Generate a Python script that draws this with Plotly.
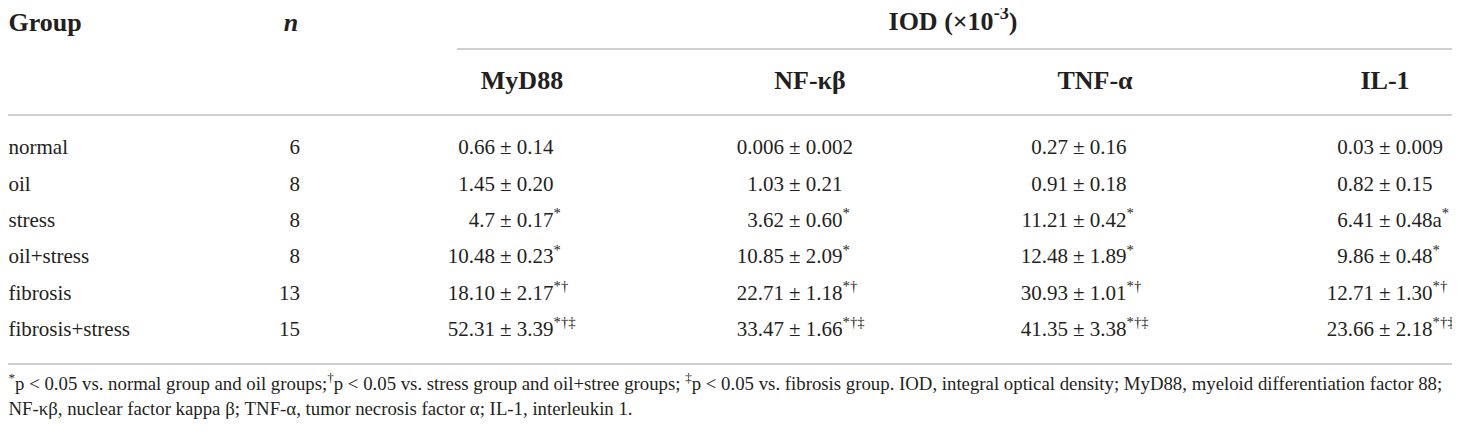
import re
import plotly.graph_objects as go

# table content
groups = ["normal", "oil", "stress", "oil+stress", "fibrosis", "fibrosis+stress"]
n_vals = [6, 8, 8, 8, 13, 15]

markers = ["MyD88", "NF-κβ", "TNF-α", "IL-1"]

myd88_mean = ["0.66", "1.45", "4.7", "10.48", "18.10", "52.31"]
myd88_sd = ["0.14", "0.20", "0.17", "0.23", "2.17", "3.39"]
myd88_sig = ["", "", "*", "*", "*†", "*†‡"]

nfkb_mean = ["0.006", "1.03", "3.62", "10.85", "22.71", "33.47"]
nfkb_sd = ["0.002", "0.21", "0.60", "2.09", "1.18", "1.66"]
nfkb_sig = ["", "", "*", "*", "*†", "*†‡"]

tnf_mean = ["0.27", "0.91", "11.21", "12.48", "30.93", "41.35"]
tnf_sd = ["0.16", "0.18", "0.42", "1.89", "1.01", "3.38"]
tnf_sig = ["", "", "*", "*", "*†", "*†‡"]

il1_mean = ["0.03", "0.82", "6.41", "9.86", "12.71", "23.66"]
il1_sd = ["0.009", "0.15", "0.48", "0.48", "1.30", "2.18"]
il1_sig = ["", "", "a*", "*", "*†", "*†‡"]

footnote_1 = ("<sup>*</sup>p &lt; 0.05 vs. normal group and oil groups;<sup>†</sup>p &lt; 0.05 vs. "
              "stress group and oil+stree groups; <sup>‡</sup>p &lt; 0.05 vs. fibrosis group. "
              "IOD, integral optical density; MyD88, myeloid differentiation factor 88;")
footnote_2 = "NF-κβ, nuclear factor kappa β; TNF-α, tumor necrosis factor α; IL-1, interleukin 1."

# layout constants (screen pixels; the page body adds an 8px margin)
W, H = 1460, 431
PAD = 8
FONT = "Liberation Serif"
INK = "#231f20"
RULE = "#d0d0d0"
HEAD_SIZE = 26
BODY_SIZE = 21
NOTE_SIZE = 18.8

left_x = PAD + 0.5                    # left text edge (plot area starts at the body margin)
row_y0, row_step = 149, 36.4
row_y = [row_y0 + i * row_step for i in range(len(groups))]
pm_x = [500, 789, 1073, 1379]         # left edge of the ± sign per column
head_x = [522, 810, 1095, 1385]       # centre of the column titles

columns = [
    (myd88_mean, myd88_sd, myd88_sig),
    (nfkb_mean, nfkb_sd, nfkb_sig),
    (tnf_mean, tnf_sd, tnf_sig),
    (il1_mean, il1_sd, il1_sig),
]

fig = go.Figure()


def add_text(x, y, text, pos, size=BODY_SIZE):
    fig.add_trace(go.Scatter(
        x=x, y=y, text=text, mode="text", textposition=pos,
        textfont=dict(family=FONT, size=size, color=INK),
        cliponaxis=False, hoverinfo="skip", showlegend=False,
    ))


def sig_marks(s):
    return re.sub(r"([*†‡]+)", r"<sup>\1</sup>", s)


# header
add_text([left_x], [24], ["<b>Group</b>"], "middle right", HEAD_SIZE)
add_text([291], [24], ["<b><i>n</i></b>"], "middle center", HEAD_SIZE)
add_text([953], [23], ["<b>IOD (×10<sup>-3</sup>)</b>"], "middle center", HEAD_SIZE)
add_text(head_x, [82] * 4, ["<b>%s</b>" % m for m in markers], "middle center", HEAD_SIZE)

# body
add_text([left_x] * len(groups), row_y, groups, "middle right")
add_text([300] * len(groups), row_y, [str(v) for v in n_vals], "middle left")
for px, (mean, sd, sig) in zip(pm_x, columns):
    add_text([px - 5] * len(mean), row_y, mean, "middle left")
    add_text([px] * len(sd), row_y,
             ["± %s%s" % (s, sig_marks(g)) for s, g in zip(sd, sig)], "middle right")

# footnotes
add_text([left_x], [385], [footnote_1], "middle right", NOTE_SIZE)
add_text([left_x], [410], [footnote_2], "middle right", NOTE_SIZE)

# rules
for x0, x1, y in [(457, 1455, 49), (PAD, 1455, 115), (PAD, 1455, 364)]:
    fig.add_shape(type="line", xref="x", yref="y", x0=x0, x1=x1, y0=y, y1=y,
                  line=dict(color=RULE, width=2))

fig.update_layout(
    width=W - PAD, height=H - PAD,
    margin=dict(l=0, r=0, t=0, b=0),
    paper_bgcolor="white", plot_bgcolor="white",
    xaxis=dict(range=[PAD, W], visible=False, fixedrange=True),
    yaxis=dict(range=[H, PAD], visible=False, fixedrange=True),
)

fig.write_html("out.html")
